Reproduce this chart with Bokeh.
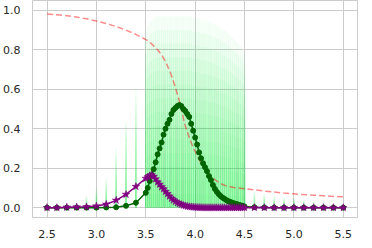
from bokeh.plotting import figure
from bokeh.models import FixedTicker, Range1d
from bokeh.embed import file_html
from bokeh.resources import INLINE

# x grid: coarse 2.5-3.4, dense 3.50-4.50 (step 0.02), coarse 4.6-5.5
x_coarse_lo = [2.5, 2.6, 2.7, 2.8, 2.9, 3.0, 3.1, 3.2, 3.3, 3.4]
x_dense = [round(3.5 + 0.02 * i, 2) for i in range(51)]
x_coarse_hi = [4.6, 4.7, 4.8, 4.9, 5.0, 5.1, 5.2, 5.3, 5.4, 5.5]
xs = x_coarse_lo + x_dense + x_coarse_hi

green_vals = (
    [0.0, 0.0, 0.0, 0.0, 0.0, 0.0, 0.001, 0.002, 0.009, 0.025]
    + [0.075, 0.10, 0.135, 0.165, 0.195, 0.23, 0.27, 0.30, 0.33, 0.37,
       0.40, 0.425, 0.445, 0.475, 0.495, 0.505, 0.515, 0.52, 0.515, 0.50,
       0.49, 0.475, 0.46, 0.425, 0.39, 0.355, 0.32, 0.28, 0.25, 0.225,
       0.205, 0.185, 0.16, 0.14, 0.115, 0.095, 0.08, 0.068, 0.058, 0.05,
       0.044, 0.037, 0.032, 0.028, 0.024, 0.021, 0.018, 0.015, 0.012, 0.009,
       0.006]
    + [0.002, 0.001, 0.0, 0.0, 0.0, 0.0, 0.0, 0.0, 0.0, 0.0]
)

purple_vals = (
    [0.0, 0.0, 0.002, 0.003, 0.004, 0.008, 0.017, 0.037, 0.067, 0.107]
    + [0.148, 0.155, 0.162, 0.165, 0.158, 0.145, 0.13, 0.118, 0.105, 0.095,
       0.082, 0.07, 0.058, 0.047, 0.039, 0.031, 0.025, 0.02, 0.016, 0.012,
       0.009, 0.007, 0.005, 0.004, 0.003, 0.002, 0.001, 0.001, 0.001, 0.0,
       0.0, 0.0, 0.0, 0.0, 0.0, 0.0, 0.0, 0.0, 0.0, 0.0,
       0.0, 0.0, 0.0, 0.0, 0.0, 0.0, 0.0, 0.0, 0.0, 0.0,
       0.0]
    + [0.0, 0.0, 0.0, 0.0, 0.0, 0.0, 0.0, 0.0, 0.0, 0.0]
)

red_vals = (
    [0.982, 0.978, 0.973, 0.966, 0.957, 0.946, 0.933, 0.918, 0.900, 0.878]
    + [0.852, 0.846, 0.838, 0.83, 0.82, 0.81, 0.80, 0.788, 0.775, 0.758,
       0.74, 0.718, 0.695, 0.67, 0.64, 0.61, 0.575, 0.54, 0.50, 0.455,
       0.415, 0.385, 0.355, 0.33, 0.305, 0.285, 0.265, 0.245, 0.225, 0.205,
       0.19, 0.178, 0.168, 0.158, 0.15, 0.142, 0.135, 0.128, 0.122, 0.117,
       0.113, 0.11, 0.107, 0.105, 0.103, 0.101, 0.10, 0.099, 0.098, 0.097,
       0.096]
    + [0.09, 0.084, 0.079, 0.074, 0.07, 0.066, 0.063, 0.06, 0.057, 0.055]
)

# upper extent of the faint sample cloud at each x
cloud_top = (
    [0.0, 0.01, 0.02, 0.03, 0.06, 0.10, 0.15, 0.30, 0.45, 0.60]
    + [0.90, 0.92, 0.94, 0.95, 0.96, 0.97, 0.97, 0.97, 0.97, 0.97,
       0.97, 0.97, 0.97, 0.97, 0.97, 0.97, 0.97, 0.97, 0.97, 0.97,
       0.97, 0.97, 0.97, 0.97, 0.96, 0.96, 0.96, 0.96, 0.95, 0.95,
       0.95, 0.95, 0.94, 0.94, 0.93, 0.93, 0.92, 0.92, 0.91, 0.90,
       0.90, 0.89, 0.88, 0.87, 0.86, 0.85, 0.84, 0.83, 0.82, 0.80,
       0.78]
    + [0.08, 0.07, 0.06, 0.05, 0.05, 0.04, 0.03, 0.03, 0.02, 0.02]
)

x_ticks = [2.5, 3.0, 3.5, 4.0, 4.5, 5.0, 5.5]
y_ticks = [0.0, 0.2, 0.4, 0.6, 0.8, 1.0]

p = figure(width=364, height=240, output_backend="svg", toolbar_location=None,
           x_range=Range1d(2.353, 5.644), y_range=Range1d(-0.05, 1.05),
           min_border_left=22, min_border_right=7, min_border_top=0,
           min_border_bottom=22)
p.background_fill_color = "white"
p.border_fill_color = "white"
p.outline_line_color = "#cccccc"
p.outline_line_width = 1

# faint cloud: many translucent layers, density falling off upward
n_layers = 14
for k in range(1, n_layers + 1):
    f = k / n_layers
    p.vbar(x=xs, top=[t * f for t in cloud_top], bottom=0, width=0.017,
           fill_color="#00ee44", fill_alpha=0.05, line_color=None)

p.line(xs, red_vals, line_color="red", line_alpha=0.45, line_width=1.5,
       line_dash="6 3")

p.line(xs, green_vals, line_color="darkgreen", line_width=1.5)
p.scatter(xs, green_vals, marker="circle", size=5, fill_color="darkgreen",
          line_color="darkgreen")

p.line(xs, purple_vals, line_color="purple", line_width=1.5)
p.scatter(xs, purple_vals, marker="star", size=8, fill_color="purple",
          line_color="purple", line_width=0.5)

for ax in (p.xaxis, p.yaxis):
    ax.axis_line_color = None
    ax.major_tick_line_color = None
    ax.minor_tick_line_color = None
    ax.major_label_text_font = "DejaVu Sans"
    ax.major_label_text_font_size = "11px"
    ax.major_label_text_color = "#262626"
    ax.major_label_standoff = 6

p.xaxis.ticker = FixedTicker(ticks=x_ticks)
p.yaxis.ticker = FixedTicker(ticks=y_ticks)
p.xaxis.major_label_overrides = {t: f"{t:.1f}" for t in x_ticks}
p.yaxis.major_label_overrides = {t: f"{t:.1f}" for t in y_ticks}

p.xgrid.grid_line_color = "#cccccc"
p.ygrid.grid_line_color = "#cccccc"
p.xgrid.grid_line_width = 1
p.ygrid.grid_line_width = 1

open("out.html", "w").write(file_html(p, INLINE))
